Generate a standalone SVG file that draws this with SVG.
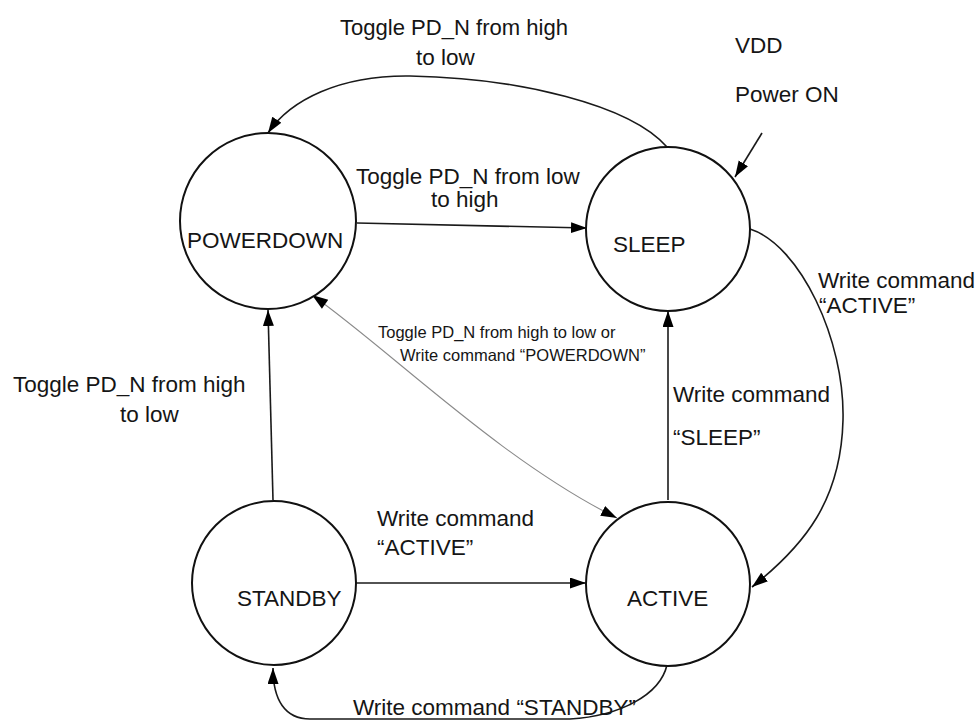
<svg xmlns="http://www.w3.org/2000/svg" width="979" height="721" viewBox="0 0 979 721">
<style>
.node{fill:#fff;stroke:#111;stroke-width:2}
.lbl{font-family:"Liberation Sans",Arial,sans-serif;font-size:22.5px;fill:#151515}
.sm{font-family:"Liberation Sans",Arial,sans-serif;font-size:16.5px;fill:#151515}
.edge{fill:none;stroke:#1a1a1a;stroke-width:1.6}
.thin{fill:none;stroke:#8a8a8a;stroke-width:1.1}
</style>
<defs>
<marker id="arr" markerUnits="userSpaceOnUse" markerWidth="18" markerHeight="13" refX="16" refY="5.5" orient="auto">
<path d="M0,0 L16,5.5 L0,11 z" fill="#000"/>
</marker>
<marker id="arrS" markerUnits="userSpaceOnUse" markerWidth="18" markerHeight="13" refX="0" refY="5.5" orient="auto">
<path d="M16,0 L0,5.5 L16,11 z" fill="#000"/>
</marker>
</defs>
<rect width="979" height="721" fill="#fff"/>
<g id="connectors">
<path class="edge" d="M667 147 C630 105 520 78 410 76 C340 75 290 100 268 133" marker-end="url(#arr)"/>
<path class="edge" d="M357 223 L587 228" marker-end="url(#arr)"/>
<path class="edge" d="M762 133 L735 177" marker-end="url(#arr)"/>
<path class="edge" d="M750 229 C800 245 845 340 843 420 C841 500 805 545 752 587" marker-end="url(#arr)"/>
<path class="edge" d="M668 500 L668 311" marker-end="url(#arr)"/>
<path class="edge" d="M273 500 L268 310" marker-end="url(#arr)"/>
<path class="thin" d="M312 295 C390 350 500 460 617 518" marker-start="url(#arrS)" marker-end="url(#arr)"/>
<path class="edge" d="M356 583 L586 583" marker-end="url(#arr)"/>
<path class="edge" d="M667 665 C660 695 620 716 570 719 L310 719 C285 719 273 700 273 668" marker-end="url(#arr)"/>
</g>
<g id="powerdown"><circle class="node" cx="268" cy="221" r="88"/><text class="lbl" x="187" y="248">POWERDOWN</text></g>
<g id="sleep"><circle class="node" cx="668" cy="229" r="82"/><text class="lbl" x="613" y="252">SLEEP</text></g>
<g id="standby"><circle class="node" cx="274" cy="583" r="82"/><text class="lbl" x="237" y="606">STANDBY</text></g>
<g id="active"><circle class="node" cx="668" cy="584" r="82"/><text class="lbl" x="627" y="606">ACTIVE</text></g>
<g id="labels">
<text class="lbl" x="340" y="35" textLength="228" lengthAdjust="spacingAndGlyphs">Toggle PD_N from high</text>
<text class="lbl" x="416" y="65">to low</text>
<text class="lbl" x="735" y="53">VDD</text>
<text class="lbl" x="735" y="102">Power ON</text>
<text class="lbl" x="356" y="184">Toggle PD_N from low</text>
<text class="lbl" x="431" y="207">to high</text>
<text class="lbl" x="818" y="288">Write command</text>
<text class="lbl" x="819" y="313">“ACTIVE”</text>
<text class="sm" x="378" y="338">Toggle PD_N from high to low or</text>
<text class="sm" x="400" y="361">Write command “POWERDOWN”</text>
<text class="lbl" x="13" y="392">Toggle PD_N from high</text>
<text class="lbl" x="120" y="422">to low</text>
<text class="lbl" x="673" y="402">Write command</text>
<text class="lbl" x="673" y="445">“SLEEP”</text>
<text class="lbl" x="377" y="526">Write command</text>
<text class="lbl" x="377" y="555">“ACTIVE”</text>
<text class="lbl" x="353" y="715">Write command “STANDBY”</text>
</g>
</svg>
